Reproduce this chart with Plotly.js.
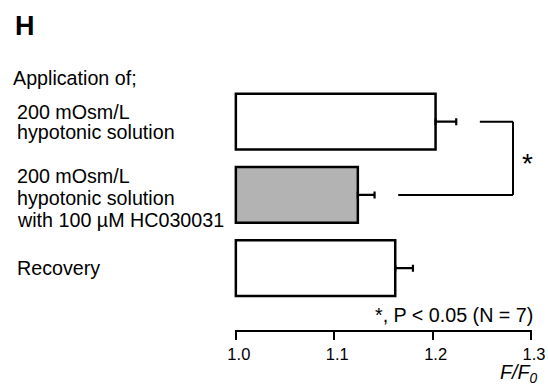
<!DOCTYPE html>
<html>
<head>
<meta charset="utf-8">
<script src="https://cdn.plot.ly/plotly-3.0.1.min.js"></script>
<style>html,body{margin:0;padding:0;background:#fff;} #chart{width:548px;height:387px;}</style>
</head>
<body>
<div id="chart"></div>
<script>
// ---- data ----
const categories = ["200 mOsm/L hypotonic solution", "200 mOsm/L hypotonic solution with 100 µM HC030031", "Recovery"];
const labelLines = [
  ["200 mOsm/L", "hypotonic solution"],
  ["200 mOsm/L", "hypotonic solution", "with 100 µM HC030031"],
  ["Recovery"]
];
const values = [1.203, 1.124, 1.162];
const errors = [0.021, 0.017, 0.018];
const fillColors = ["#ffffff", "#b3b3b3", "#ffffff"];
const tickVals = [1.0, 1.1, 1.2, 1.3];
const tickText = ["1.0", "1.1", "1.2", "1.3"];
const baseline = 1.0;
const sigPair = [0, 1];
const sigNote = "*, P < 0.05 (N = 7)";

// ---- layout geometry ----
const W = 548, H = 387;
const xRange = [0.99, 1.3];
const M = {l: 226.1, r: 16.5, t: 84.6, b: 56};
const plotW = W - M.l - M.r, plotH = H - M.t - M.b;
const px = x => (x - M.l) / plotW;           // pixel -> paper x
const py = y => 1 - (y - M.t) / plotH;       // pixel -> paper y
const dx = v => (v - xRange[0]) / (xRange[1] - xRange[0]); // data -> paper x

const font = "Liberation Sans, Arial, sans-serif";
const fs = 19.7;
const idx = categories.map((_, i) => i);

const trace = {
  type: "bar",
  orientation: "h",
  y: idx,
  x: values.map(v => v - baseline),
  base: baseline,
  width: 0.763,
  marker: {color: fillColors, line: {color: "#000", width: 2.5}},
  error_x: {type: "data", symmetric: false, array: errors, arrayminus: errors.map(() => 0),
            color: "#000", thickness: 2.2, width: 3.5},
  hoverinfo: "skip"
};

// annotations
const ann = [];
ann.push({text: "<b>H</b>", x: px(12.5), y: py(35 - 0.35 * 27), xref: "paper", yref: "paper",
  xanchor: "left", yanchor: "middle", showarrow: false, font: {family: font, size: 27, color: "#000"}});
ann.push({text: "Application of;", x: px(11), y: py(84 - 0.35 * fs), xref: "paper", yref: "paper",
  xanchor: "left", yanchor: "middle", showarrow: false, font: {family: font, size: fs, color: "#000"}});
const lineBaselines = [[118.3, 138.3], [182.3, 204.5, 226.7], [275]];
labelLines.forEach((lines, i) => {
  lines.forEach((t, j) => {
    ann.push({text: t, x: px(15), y: py(lineBaselines[i][j] - 0.35 * fs), xref: "paper", yref: "paper",
      xanchor: "left", yanchor: "middle", showarrow: false, font: {family: font, size: fs, color: "#000"}});
  });
});
ann.push({text: sigNote, x: px(536), y: py(321.7 - 0.35 * fs), xref: "paper", yref: "paper",
  xanchor: "right", yanchor: "middle", showarrow: false, font: {family: font, size: fs, color: "#000"}});
ann.push({text: "<i>F/F<sub>0</sub></i>", x: px(541), y: py(380.5 - 0.35 * fs), xref: "paper", yref: "paper",
  xanchor: "right", yanchor: "middle", showarrow: false, font: {family: font, size: fs, color: "#000"}});

// significance bracket
const gap = 0.024;
const bracketX = 1.2817;
const s0 = values[sigPair[0]] + errors[sigPair[0]] + gap;
const s1 = values[sigPair[1]] + errors[sigPair[1]] + gap;
const ln = {color: "#000", width: 2};
const shapes = [
  {type: "line", xref: "x", yref: "y", x0: s0, x1: bracketX, y0: sigPair[0], y1: sigPair[0], line: ln},
  {type: "line", xref: "x", yref: "y", x0: bracketX, x1: bracketX, y0: sigPair[0], y1: sigPair[1], line: ln},
  {type: "line", xref: "x", yref: "y", x0: s1, x1: bracketX, y0: sigPair[1], y1: sigPair[1], line: ln},
  // x axis line from 1.0 to 1.3
  {type: "line", xref: "paper", yref: "paper", x0: dx(tickVals[0]) - 0.003, x1: dx(tickVals[tickVals.length - 1]) + 0.003,
   y0: 0, y1: 0, line: ln}
];
ann.push({text: "*", x: bracketX, y: (sigPair[0] + sigPair[1]) / 2, xref: "x", yref: "y",
  xanchor: "left", yanchor: "middle", xshift: 7, yshift: -5, showarrow: false,
  font: {family: font, size: 28, color: "#000"}});

const layout = {
  width: W, height: H,
  margin: M,
  paper_bgcolor: "#fff", plot_bgcolor: "#fff",
  showlegend: false,
  xaxis: {range: xRange, tickvals: tickVals, ticktext: tickText, ticks: "outside", ticklen: 8,
          tickwidth: 2, tickcolor: "#000", showline: false, showgrid: false, zeroline: false,
          ticklabelshift: 3,
          tickfont: {family: font, size: 16.5, color: "#000"}, fixedrange: true},
  yaxis: {range: [2.858, -0.5], visible: false, showgrid: false, zeroline: false, fixedrange: true},
  annotations: ann,
  shapes: shapes
};

Plotly.newPlot("chart", [trace], layout, {displayModeBar: false, staticPlot: true});
</script>
</body>
</html>
